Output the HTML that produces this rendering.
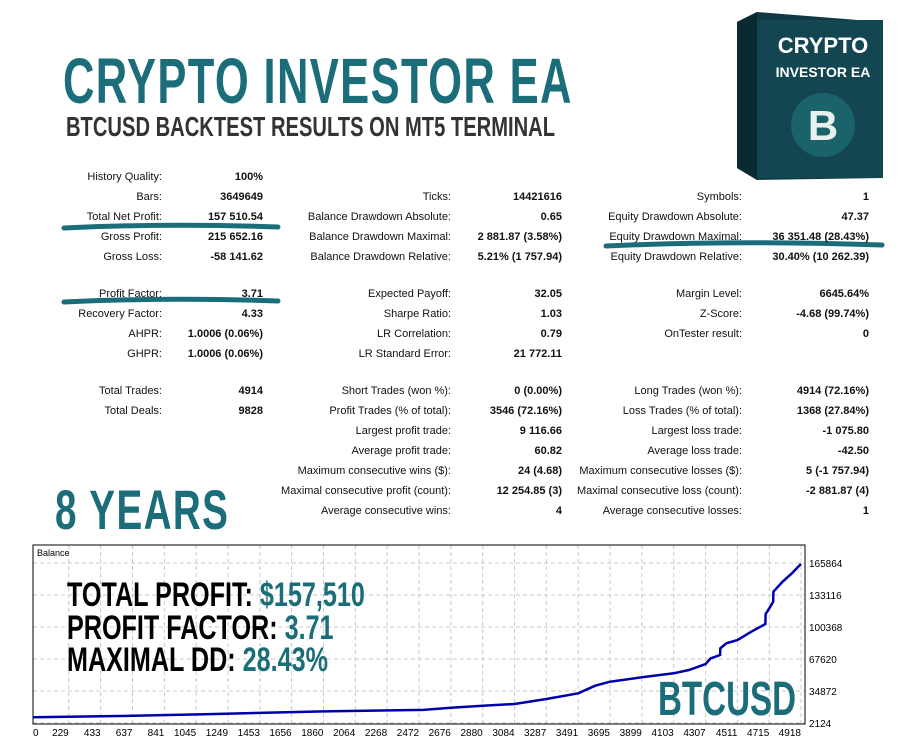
<!DOCTYPE html>
<html><head><meta charset="utf-8"><style>
body{margin:0;width:900px;height:750px;background:#fff;position:relative;overflow:hidden;font-family:"Liberation Sans",sans-serif}
.c{position:absolute;white-space:nowrap;transform-origin:left top;font-weight:bold}
.t{position:absolute;font-size:11px;color:#111;white-space:nowrap;line-height:14px}
.l{text-align:right;width:240px}
.v{text-align:right;width:160px;font-weight:bold}
.teal{color:#1b6e79}
</style></head><body>
<div class="c teal" style="left:63px;top:44px;font-size:64px;transform:scaleX(0.68);letter-spacing:2px">CRYPTO INVESTOR EA</div>
<div class="c" style="left:66px;top:111px;font-size:28px;color:#333;transform:scaleX(0.72)">BTCUSD BACKTEST RESULTS ON MT5 TERMINAL</div>
<div class="c teal" style="left:55px;top:477px;font-size:56px;transform:scaleX(0.69);letter-spacing:2px">8 YEARS</div>

<svg style="position:absolute;left:735px;top:10px" width="150" height="172">
<polygon points="2,12 22,2 148,12 148,168 22,170 2,158" fill="#0f3a44"/>
<polygon points="2,12 22,2 22,170 2,158" fill="#0a2a32"/>
<rect x="22" y="10" width="126" height="158" fill="#134651"/>
<circle cx="88" cy="115" r="32" fill="#1d6a70" opacity="0.8"/>
<text x="88" y="130" font-size="42" font-weight="bold" fill="#e8f0f0" text-anchor="middle" font-family="Liberation Sans">B</text>
<text x="88" y="43" font-size="22" font-weight="bold" fill="#fff" text-anchor="middle" font-family="Liberation Sans">CRYPTO</text>
<text x="88" y="67" font-size="14" font-weight="bold" fill="#fff" text-anchor="middle" font-family="Liberation Sans">INVESTOR EA</text>
</svg>

<svg style="position:absolute;left:0;top:0" width="900" height="540">
<path d="M64,228 Q170,223 278,227" stroke="#1b6e79" stroke-width="5" fill="none" stroke-linecap="round"/>
<path d="M64,302 Q170,297 278,301" stroke="#1b6e79" stroke-width="5" fill="none" stroke-linecap="round"/>
<path d="M606,246 Q740,240 882,245" stroke="#1b6e79" stroke-width="5" fill="none" stroke-linecap="round"/>
</svg>

<div>
<div class="t l" style="left:-78px;top:170px">History Quality:</div><div class="t v" style="left:103px;top:170px">100%</div>
<div class="t l" style="left:-78px;top:190px">Bars:</div><div class="t v" style="left:103px;top:190px">3649649</div>
<div class="t l" style="left:-78px;top:210px">Total Net Profit:</div><div class="t v" style="left:103px;top:210px">157 510.54</div>
<div class="t l" style="left:-78px;top:230px">Gross Profit:</div><div class="t v" style="left:103px;top:230px">215 652.16</div>
<div class="t l" style="left:-78px;top:250px">Gross Loss:</div><div class="t v" style="left:103px;top:250px">-58 141.62</div>
<div class="t l" style="left:-78px;top:287px">Profit Factor:</div><div class="t v" style="left:103px;top:287px">3.71</div>
<div class="t l" style="left:-78px;top:307px">Recovery Factor:</div><div class="t v" style="left:103px;top:307px">4.33</div>
<div class="t l" style="left:-78px;top:327px">AHPR:</div><div class="t v" style="left:103px;top:327px">1.0006 (0.06%)</div>
<div class="t l" style="left:-78px;top:347px">GHPR:</div><div class="t v" style="left:103px;top:347px">1.0006 (0.06%)</div>
<div class="t l" style="left:-78px;top:384px">Total Trades:</div><div class="t v" style="left:103px;top:384px">4914</div>
<div class="t l" style="left:-78px;top:404px">Total Deals:</div><div class="t v" style="left:103px;top:404px">9828</div>

<div class="t l" style="left:211px;top:190px">Ticks:</div><div class="t v" style="left:402px;top:190px">14421616</div>
<div class="t l" style="left:211px;top:210px">Balance Drawdown Absolute:</div><div class="t v" style="left:402px;top:210px">0.65</div>
<div class="t l" style="left:211px;top:230px">Balance Drawdown Maximal:</div><div class="t v" style="left:402px;top:230px">2 881.87 (3.58%)</div>
<div class="t l" style="left:211px;top:250px">Balance Drawdown Relative:</div><div class="t v" style="left:402px;top:250px">5.21% (1 757.94)</div>
<div class="t l" style="left:211px;top:287px">Expected Payoff:</div><div class="t v" style="left:402px;top:287px">32.05</div>
<div class="t l" style="left:211px;top:307px">Sharpe Ratio:</div><div class="t v" style="left:402px;top:307px">1.03</div>
<div class="t l" style="left:211px;top:327px">LR Correlation:</div><div class="t v" style="left:402px;top:327px">0.79</div>
<div class="t l" style="left:211px;top:347px">LR Standard Error:</div><div class="t v" style="left:402px;top:347px">21 772.11</div>
<div class="t l" style="left:211px;top:384px">Short Trades (won %):</div><div class="t v" style="left:402px;top:384px">0 (0.00%)</div>
<div class="t l" style="left:211px;top:404px">Profit Trades (% of total):</div><div class="t v" style="left:402px;top:404px">3546 (72.16%)</div>
<div class="t l" style="left:211px;top:424px">Largest profit trade:</div><div class="t v" style="left:402px;top:424px">9 116.66</div>
<div class="t l" style="left:211px;top:444px">Average profit trade:</div><div class="t v" style="left:402px;top:444px">60.82</div>
<div class="t l" style="left:211px;top:464px">Maximum consecutive wins ($):</div><div class="t v" style="left:402px;top:464px">24 (4.68)</div>
<div class="t l" style="left:211px;top:484px">Maximal consecutive profit (count):</div><div class="t v" style="left:402px;top:484px">12 254.85 (3)</div>
<div class="t l" style="left:211px;top:504px">Average consecutive wins:</div><div class="t v" style="left:402px;top:504px">4</div>

<div class="t l" style="left:502px;top:190px">Symbols:</div><div class="t v" style="left:709px;top:190px">1</div>
<div class="t l" style="left:502px;top:210px">Equity Drawdown Absolute:</div><div class="t v" style="left:709px;top:210px">47.37</div>
<div class="t l" style="left:502px;top:230px">Equity Drawdown Maximal:</div><div class="t v" style="left:709px;top:230px">36 351.48 (28.43%)</div>
<div class="t l" style="left:502px;top:250px">Equity Drawdown Relative:</div><div class="t v" style="left:709px;top:250px">30.40% (10 262.39)</div>
<div class="t l" style="left:502px;top:287px">Margin Level:</div><div class="t v" style="left:709px;top:287px">6645.64%</div>
<div class="t l" style="left:502px;top:307px">Z-Score:</div><div class="t v" style="left:709px;top:307px">-4.68 (99.74%)</div>
<div class="t l" style="left:502px;top:327px">OnTester result:</div><div class="t v" style="left:709px;top:327px">0</div>
<div class="t l" style="left:502px;top:384px">Long Trades (won %):</div><div class="t v" style="left:709px;top:384px">4914 (72.16%)</div>
<div class="t l" style="left:502px;top:404px">Loss Trades (% of total):</div><div class="t v" style="left:709px;top:404px">1368 (27.84%)</div>
<div class="t l" style="left:502px;top:424px">Largest loss trade:</div><div class="t v" style="left:709px;top:424px">-1 075.80</div>
<div class="t l" style="left:502px;top:444px">Average loss trade:</div><div class="t v" style="left:709px;top:444px">-42.50</div>
<div class="t l" style="left:502px;top:464px">Maximum consecutive losses ($):</div><div class="t v" style="left:709px;top:464px">5 (-1 757.94)</div>
<div class="t l" style="left:502px;top:484px">Maximal consecutive loss (count):</div><div class="t v" style="left:709px;top:484px">-2 881.87 (4)</div>
<div class="t l" style="left:502px;top:504px">Average consecutive losses:</div><div class="t v" style="left:709px;top:504px">1</div>
</div>

<svg id="chart" style="position:absolute;left:0;top:540px" width="900" height="210"></svg>

<div class="c" style="left:67px;top:576px;font-size:34px;transform:scaleX(0.74)">TOTAL PROFIT: <span class="teal">$157,510</span></div>
<div class="c" style="left:67px;top:609px;font-size:34px;transform:scaleX(0.74)">PROFIT FACTOR: <span class="teal">3.71</span></div>
<div class="c" style="left:67px;top:641px;font-size:34px;transform:scaleX(0.74)">MAXIMAL DD: <span class="teal">28.43%</span></div>
<div class="c teal" style="left:658px;top:672px;font-size:48px;transform:scaleX(0.69)">BTCUSD</div>

<script>
const xTickLabels=[0,229,433,637,841,1045,1249,1453,1656,1860,2064,2268,2472,2676,2880,3084,3287,3491,3695,3899,4103,4307,4511,4715,4918];
const yTickLabels=[2124,34872,67620,100368,133116,165864];
const trades=[0,637,1100,1450,1860,2500,2676,2880,3084,3287,3491,3600,3695,3899,4103,4200,4307,4340,4400,4401,4440,4511,4600,4690,4691,4715,4740,4741,4800,4860,4918];
const balances=[8000,9500,11000,12500,14000,15500,17800,19800,21600,26700,32500,40300,44400,48900,53000,56400,62500,68300,71700,78500,83700,87000,95600,103400,113600,119500,126300,136500,146700,155300,164900];
const NS="http://www.w3.org/2000/svg",svg=document.getElementById('chart');
const L=33,R=805,T=5,B=184;
const xs=n=>L+n*(768/4918);
const ys=v=>B-1-(v-2124)*(160/163740);
function mk(t,a){const e=document.createElementNS(NS,t);for(const k in a)e.setAttribute(k,a[k]);svg.appendChild(e);return e;}
xTickLabels.forEach((n,i)=>{const x=xs(n);
 if(i>0){const g=mk('line',{x1:x,x2:x,y1:T,y2:B,stroke:'#c8c8c8','stroke-dasharray':'4,3'});
 
 }
 const t=mk('text',{x:x,y:B+12,'font-size':10,'text-anchor':i==0?'start':'end','font-family':'Liberation Sans'});t.textContent=n;
 
 
});
yTickLabels.forEach(v=>{const y=ys(v);
 const g=mk('line',{x1:L,x2:R,y1:y,y2:y,stroke:'#c8c8c8','stroke-dasharray':'4,3'});
 
 
 const t=mk('text',{x:R+4,y:y+4,'font-size':10,'font-family':'Liberation Sans'});t.textContent=v;
 
 
});
const fr=mk('rect',{x:L,y:T,width:R-L,height:B-T,fill:'none',stroke:'#000','stroke-width':1});


const tl=mk('text',{x:L+4,y:T+11,'font-size':9,'font-family':'Liberation Sans'});tl.textContent='Balance';


let d='';trades.forEach((n,i)=>{d+=(i?'L':'M')+xs(n).toFixed(1)+','+ys(balances[i]).toFixed(1);});
const ln=mk('path',{d:d,fill:'none',stroke:'#0000aa','stroke-width':2.5});


</script>
</body></html>
